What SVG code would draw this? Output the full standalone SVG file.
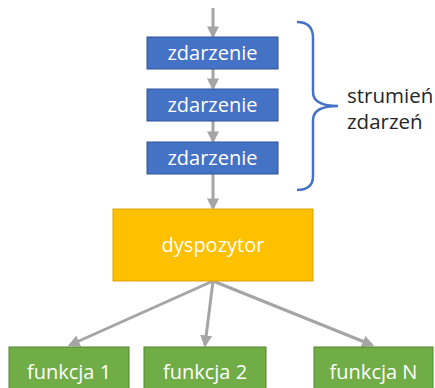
<svg xmlns="http://www.w3.org/2000/svg" width="435" height="388" viewBox="0 0 435 388">
<defs>
<marker id="ah" markerWidth="4" markerHeight="4" refX="3.2" refY="2" orient="auto" markerUnits="strokeWidth">
<path d="M0,0 L4,2 L0,4 Z" fill="#A5A5A5"/>
</marker>
<style>
.ev{fill:#4472C4;stroke:#2F5597;stroke-width:1}
.fn{fill:#70AD47;stroke:#548235;stroke-width:1}
.dp{fill:#FFC000;stroke:#D9A400;stroke-width:1}
.t{font-family:"Open Sans","Noto Sans",sans-serif;font-size:20px;fill:#FFFFFF;text-anchor:middle}
.lb{font-family:"Open Sans","Noto Sans",sans-serif;font-size:20.5px;fill:#262626}
.c{stroke:#A5A5A5;stroke-width:3;fill:none;marker-end:url(#ah)}
</style>
</defs>
<rect width="435" height="388" fill="#FFFFFF"/>
<g id="connectors">
<line class="c" x1="213" y1="8" x2="213" y2="36"/>
<line class="c" x1="213" y1="69" x2="213" y2="88"/>
<line class="c" x1="213" y1="121" x2="213" y2="141"/>
<line class="c" x1="213" y1="174" x2="213" y2="208"/>
<line class="c" x1="213" y1="281" x2="70" y2="345"/>
<line class="c" x1="213" y1="281" x2="205" y2="345"/>
<line class="c" x1="213" y1="281" x2="372" y2="345"/>
</g>
<g id="e1"><rect class="ev" x="147" y="37" width="131" height="32"/><text class="t" x="212.5" y="60">zdarzenie</text></g>
<g id="e2"><rect class="ev" x="147" y="89" width="131" height="32"/><text class="t" x="212.5" y="112">zdarzenie</text></g>
<g id="e3"><rect class="ev" x="147" y="142" width="131" height="32"/><text class="t" x="212.5" y="165">zdarzenie</text></g>
<g id="brace">
<path d="M297,22 Q313,22 313,38 L313,92 Q313,106 338,106 Q313,106 313,120 L313,176 Q313,190 297,190" fill="none" stroke="#4472C4" stroke-width="2.5"/>
<text class="lb" x="347" y="103">strumień</text>
<text class="lb" x="347" y="129">zdarzeń</text>
</g>
<g id="dyspozytor"><rect class="dp" x="113" y="209" width="200" height="72"/><text class="t" x="213" y="252">dyspozytor</text></g>
<g id="f1"><rect class="fn" x="9" y="347" width="120" height="45"/><text class="t" x="69" y="379">funkcja 1</text></g>
<g id="f2"><rect class="fn" x="144" y="347" width="122" height="45"/><text class="t" x="205" y="379">funkcja 2</text></g>
<g id="fN"><rect class="fn" x="314" y="347" width="119" height="45"/><text class="t" x="373.5" y="379">funkcja N</text></g>
</svg>
